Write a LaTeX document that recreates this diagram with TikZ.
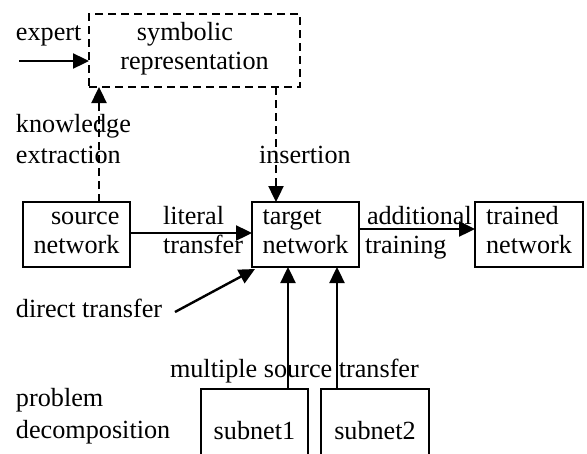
\documentclass[tikz,border=0pt]{standalone}
\usepackage{fontspec}
\setmainfont{Liberation Serif}
\usetikzlibrary{arrows.meta}
\newcommand\fs{\rule{0pt}{20pt}}
\newcommand\bst{\rule[-10.5pt]{0pt}{29pt}}
\begin{document}
\begin{tikzpicture}[x=1pt,y=-1pt,
  every node/.style={inner sep=0pt, outer sep=0pt, font=\fontsize{26.2}{29}\selectfont},
  box/.style={draw, line width=2pt},
  dbox/.style={draw, line width=1.8pt, dash pattern=on 8pt off 5pt},
  lbl/.style={anchor=base west},
  mlbl/.style={anchor=north west, align=left},
  arr/.style={line width=2.4pt, -{Triangle[length=16pt,width=15pt]}},
  darr/.style={arr, dash pattern=on 8pt off 5pt},
]
\path[use as bounding box] (0,0) rectangle (587,453);
\clip (0,0) rectangle (587,453);

% boxes
\node[dbox, align=center, minimum width=211pt, minimum height=73pt] (sym) at (194.5,50.5)
  {\bst symbolic\hspace*{19pt}\\\bst representation};
\node[box, align=right, minimum width=107pt, minimum height=65pt] (src) at (76.5,234.5)
  {\bst source\\\bst network};
\node[box, align=left, minimum width=107pt, minimum height=65pt] (tgt) at (305.5,234.5)
  {\bst target\\\bst network};
\node[box, align=left, minimum width=108pt, minimum height=65pt] (trn) at (529,234.5)
  {\bst trained\\\bst network};
\node[box, minimum width=107pt, minimum height=92pt] (sub1) at (254.5,435) {\bst subnet1};
\node[box, minimum width=108pt, minimum height=92pt] (sub2) at (375,435) {\bst subnet2};

% labels
\node[lbl] (lexp) at (16,40) {expert};
\node[mlbl, font=\fontsize{26.2}{31}\selectfont] (lke) at (16,112) {\fs knowledge\\extraction};
\node[lbl] (lins) at (259,163) {insertion};
\node[mlbl] (llit) at (163,204) {\fs literal\\transfer};
\node[mlbl] (ladd) at (367,204) {\fs additional\\\hspace*{-2pt}training};
\node[lbl] (ldt) at (16,317) {direct transfer};
\node[lbl] (lmst) at (170,377) {multiple source transfer};
\node[mlbl, font=\fontsize{26.2}{32}\selectfont] (lpd) at (16,386) {\fs problem\\decomposition};

% connectors
\coordinate (expIn) at (19,61);
\draw[arr] (expIn) -- (expIn -| sym.west);
\coordinate (kx) at (99,0);
\draw[darr] (src.north -| kx) -- (sym.south -| kx);
\coordinate (ix) at (276,0);
\draw[darr] (sym.south -| ix) -- (tgt.north -| ix);
\draw[arr] ([yshift=1.5pt]src.east) -- ([yshift=1.5pt]tgt.west);
\draw[arr] ([yshift=5.5pt]tgt.east) -- ([yshift=5.5pt]trn.west);
\coordinate (dt) at (175,312);
\draw[arr] (dt) -- ([shift={(3pt,-2pt)}]tgt.south west);
\coordinate (m1) at (288,0);
\coordinate (m2) at (337,0);
\draw[arr] (sub1.north -| m1) -- (tgt.south -| m1);
\draw[arr] (sub2.north -| m2) -- (tgt.south -| m2);
\end{tikzpicture}
\end{document}
